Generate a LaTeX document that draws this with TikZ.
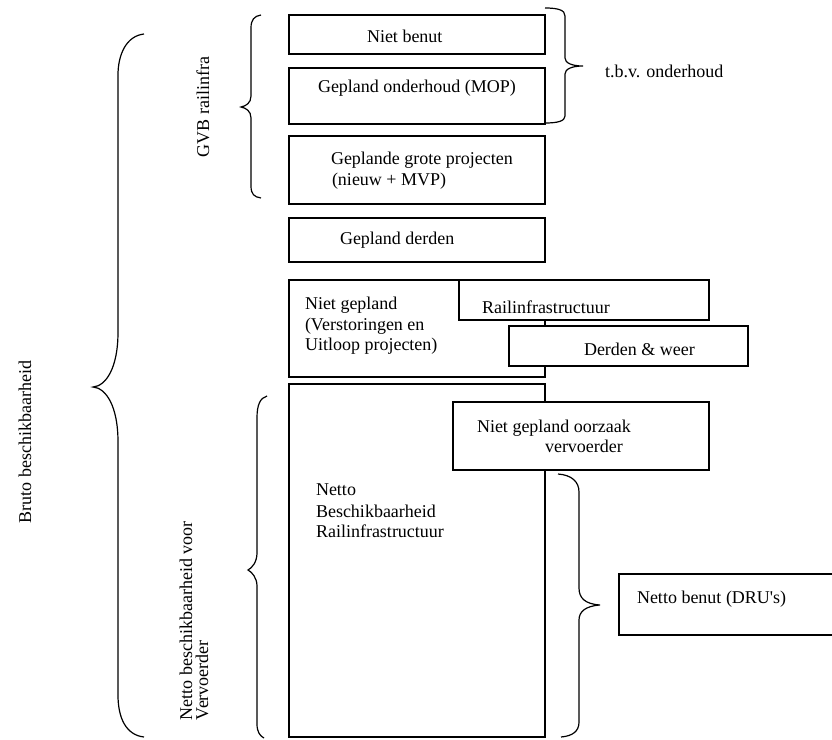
\documentclass[tikz,border=0pt]{standalone}
\usepackage{fontspec}
\setmainfont{Liberation Serif}
\begin{document}
\begin{tikzpicture}[x=1pt,y=-1pt,
  box/.style={draw, line width=1.5pt, fill=white, inner sep=0pt, outer sep=0pt},
  txt/.style={anchor=base west, inner sep=0pt, outer sep=0pt, font=\fontsize{18}{21}\selectfont},
  rtxt/.style={txt, rotate=90},
  bracepath/.style={draw, line width=1.2pt}]
\useasboundingbox (0,0) rectangle (832,739);
\clip (0,0) rectangle (832,739);
% boxes
\node[box, minimum width=256pt, minimum height=39pt] (b1) at (417,34.5) {};
\node[box, minimum width=256pt, minimum height=56pt] (b2) at (417,96) {};
\node[box, minimum width=256pt, minimum height=68pt] (b3) at (417,170) {};
\node[box, minimum width=256pt, minimum height=44pt] (b4) at (417,240) {};
\node[box, minimum width=256pt, minimum height=97pt] (b5) at (417,328.5) {};
\node[box, minimum width=250pt, minimum height=40pt] (rail) at (584,300) {};
\node[box, minimum width=239pt, minimum height=40pt] (derden) at (628.5,346) {};
\node[box, minimum width=256pt, minimum height=353pt] (b6) at (417,560.5) {};
\node[box, minimum width=256pt, minimum height=68pt] (oorzaak) at (581,436) {};
\node[box, minimum width=226pt, minimum height=61pt] (benut) at (732,604.5) {};
% texts
\node[txt] (t1) at (367,42) {Niet benut};
\node[txt] (t2) at (318,92) {Gepland onderhoud (MOP)};
\node[txt] (t3a) at (331,164) {Geplande grote projecten};
\node[txt] (t3b) at (332,185) {(nieuw + MVP)};
\node[txt] (t4) at (340,244) {Gepland derden};
\node[txt] (t5a) at (305,309) {Niet gepland};
\node[txt] (t5b) at (305,330) {(Verstoringen en};
\node[txt] (t5c) at (305,350) {Uitloop projecten)};
\node[txt] (trail) at (482,313) {Railinfrastructuur};
\node[txt] (tderden) at (584,355) {Derden \& weer};
\node[txt] (ttbv) at (605,77) {t.b.v. onderhoud};
\node[txt] (to1) at (477,432) {Niet gepland oorzaak};
\node[txt] (to2) at (545,452) {vervoerder};
\node[txt] (t6a) at (316,495) {Netto};
\node[txt] (t6b) at (316,517) {Beschikbaarheid};
\node[txt] (t6c) at (316,537) {Railinfrastructuur};
\node[txt] (tbenut) at (637,603) {Netto benut (DRU\textquotesingle s)};
\node[rtxt] (tgvb) at (209,157) {GVB railinfra};
\node[rtxt] (tbruto) at (31,523) {Bruto beschikbaarheid};
\node[rtxt] (tnetto1) at (192,720) {Netto beschikbaarheid voor};
\node[rtxt] (tnetto2) at (208,720) {Vervoerder};
% braces
\path[bracepath] (144,34) .. controls (126,36) and (118,55) .. (118,75) -- (118,332)
  .. controls (118,368) and (106,386) .. (93,387)
  .. controls (106,388) and (118,406) .. (118,442) -- (118,695)
  .. controls (118,718) and (126,735) .. (144,737);
\path[bracepath] (261,15) .. controls (254,16) and (251,20) .. (251,28) -- (251,96)
  .. controls (251,103) and (246,106) .. (241,107)
  .. controls (246,108) and (251,111) .. (251,118) -- (251,186)
  .. controls (251,194) and (254,197) .. (261,198);
\path[bracepath] (267,396) .. controls (260,398) and (257,405) .. (257,418) -- (257,553)
  .. controls (257,562) and (252,568) .. (248,570)
  .. controls (252,572) and (257,578) .. (257,586) -- (257,724)
  .. controls (257,732) and (260,736) .. (264,738);
\path[bracepath] (545,8) .. controls (558,8) and (565,10) .. (565,16) -- (565,58)
  .. controls (565,63) and (572,66) .. (583,66)
  .. controls (572,66) and (565,69) .. (565,74) -- (565,116)
  .. controls (565,121) and (558,123) .. (545,123);
\path[bracepath] (558,474) .. controls (572,475) and (579,482) .. (579,492) -- (579,588)
  .. controls (579,598) and (585,604) .. (600,605)
  .. controls (585,606) and (579,612) .. (579,620) -- (579,722)
  .. controls (579,731) and (573,736) .. (561,737);
\end{tikzpicture}
\end{document}
